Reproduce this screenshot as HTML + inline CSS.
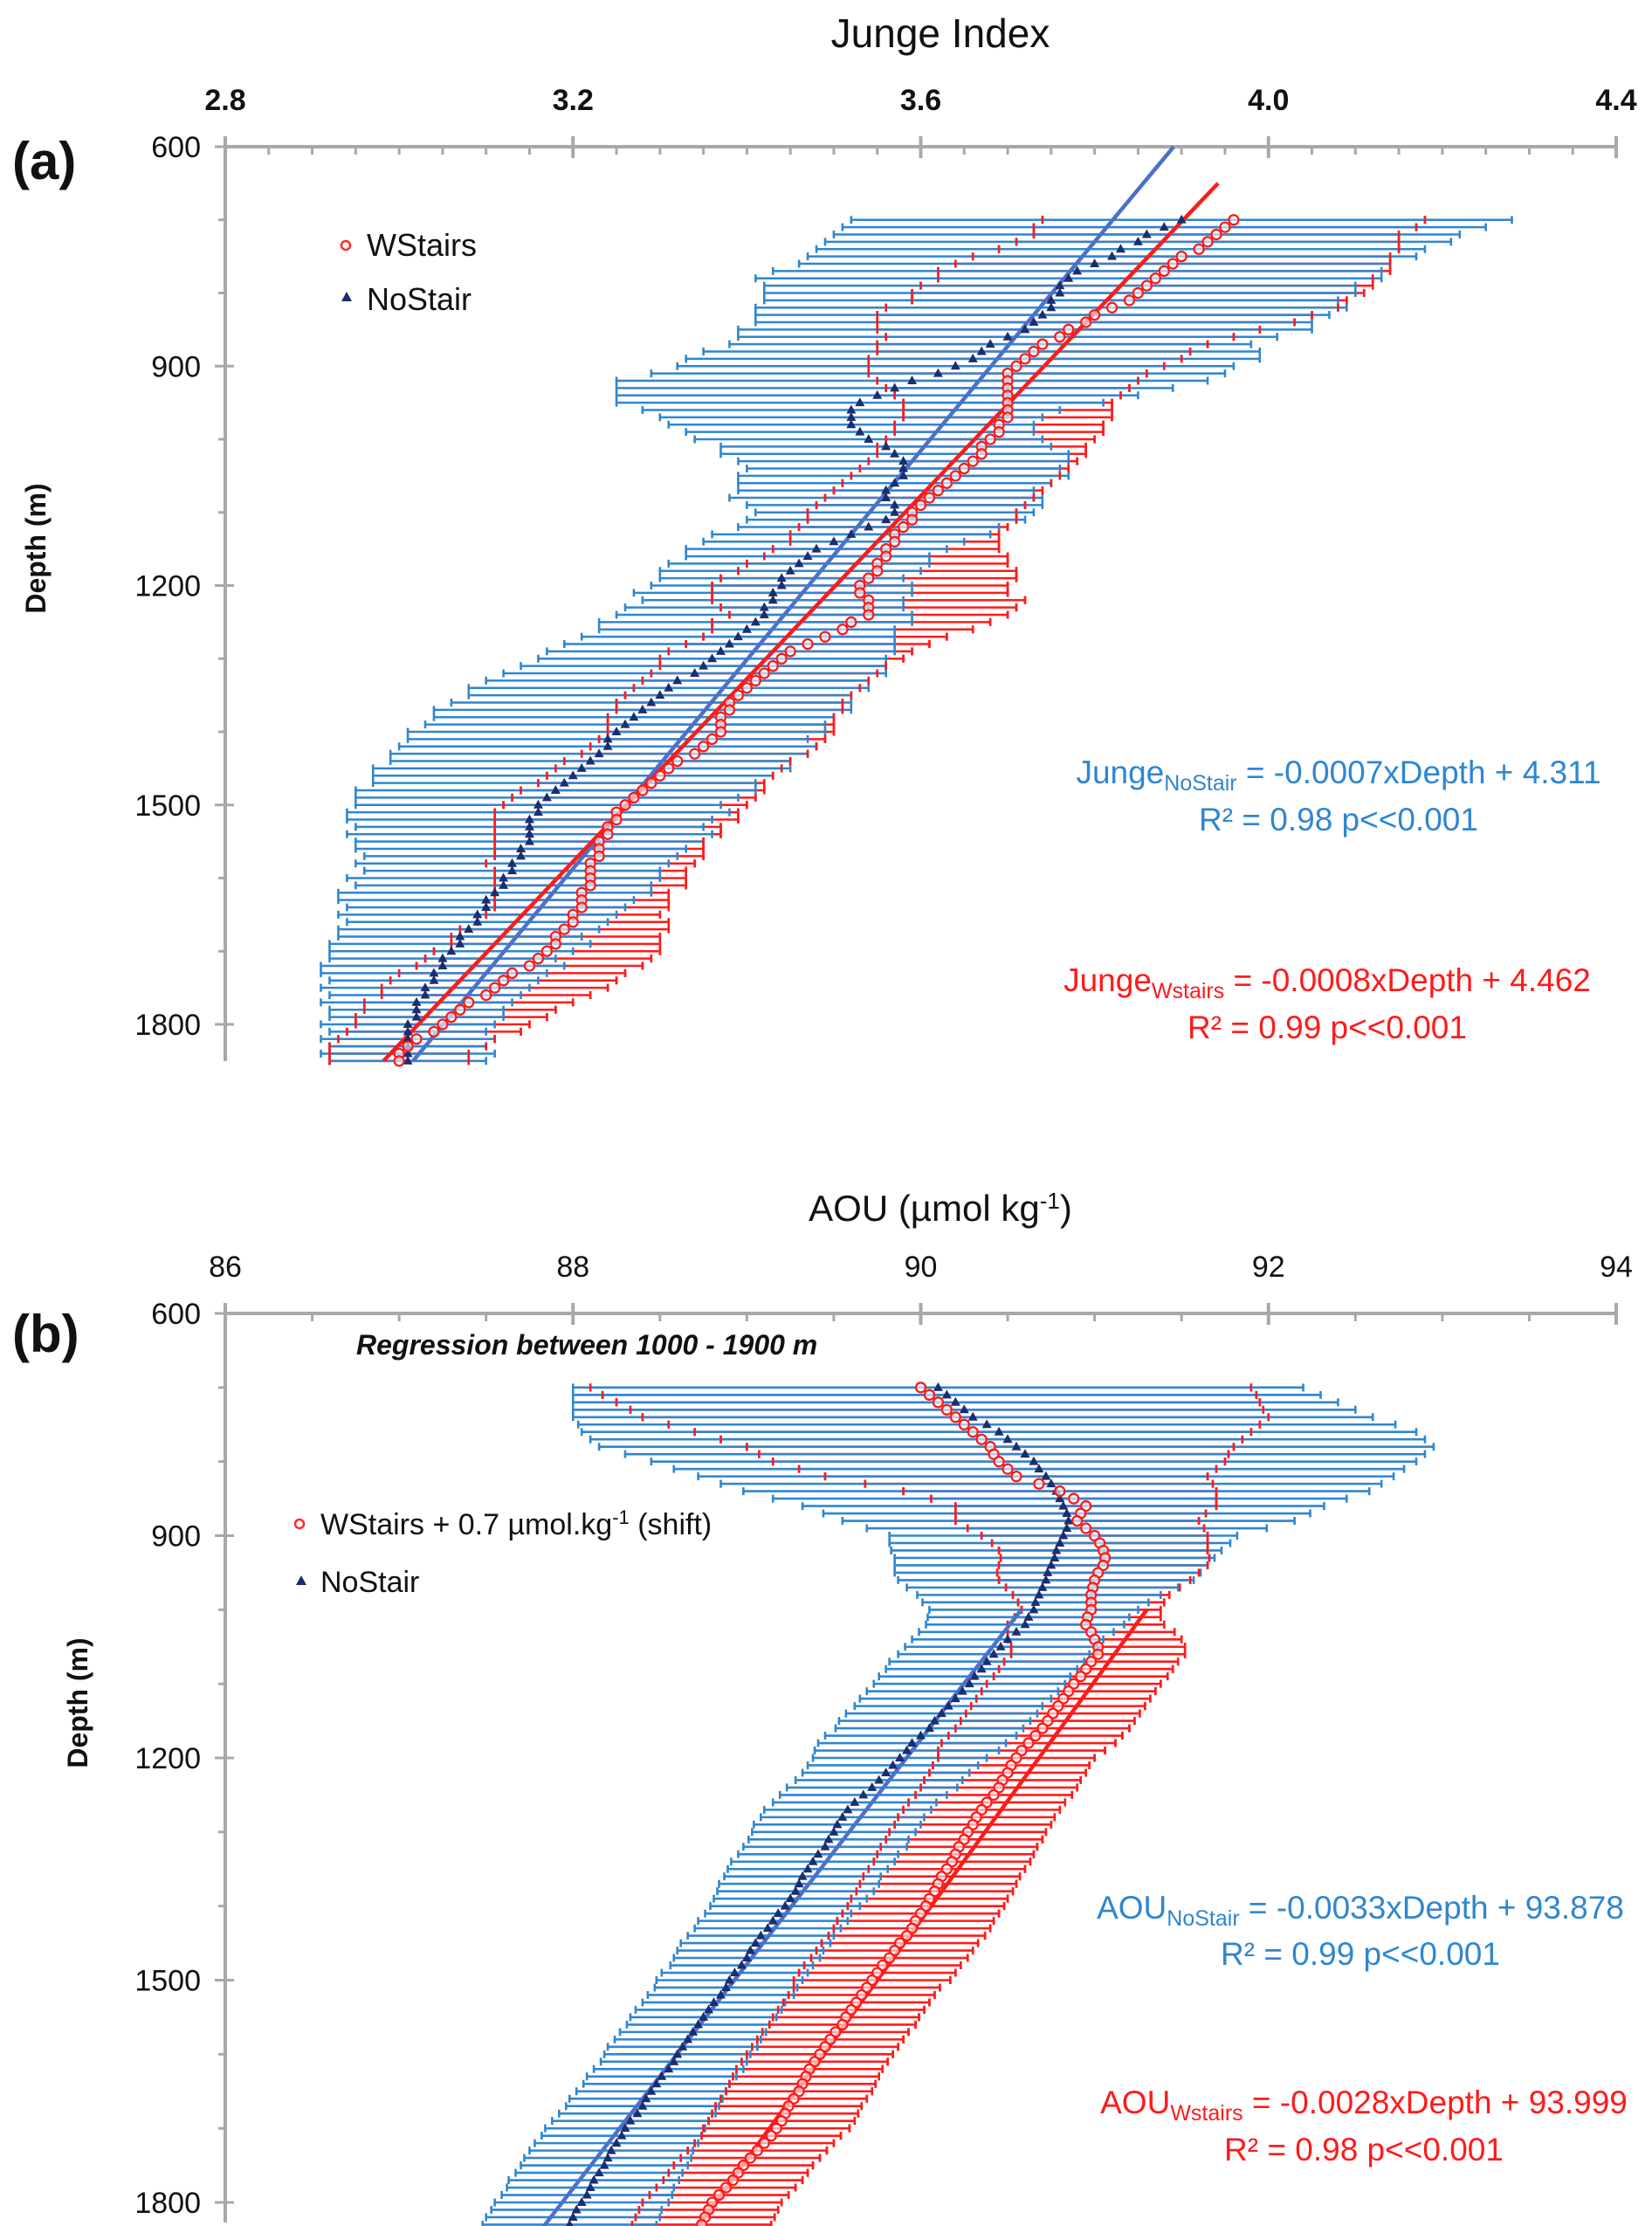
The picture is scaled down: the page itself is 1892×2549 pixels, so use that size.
<!DOCTYPE html>
<html><head><meta charset="utf-8"><style>
html,body{margin:0;padding:0;background:#fff;}
svg{display:block;font-family:"Liberation Sans","DejaVu Sans",sans-serif;}
</style></head><body>
<svg id="fig" width="1892" height="2549" viewBox="0 0 1892 2549" xmlns="http://www.w3.org/2000/svg">
<g id="panelA"></g>
<g id="panelB"></g>
<g>
<text x="1077" y="54" font-size="46" text-anchor="middle" fill="#111">Junge Index</text>
<text x="14" y="205" font-size="60" font-weight="bold" fill="#111">(a)</text>
<text transform="translate(52,628) rotate(-90)" font-size="32" font-weight="bold" text-anchor="middle" fill="#111">Depth (m)</text>
<circle cx="396" cy="281" r="5" fill="none" stroke="#ff2a2a" stroke-width="2.5"/>
<text x="420" y="293" font-size="36" fill="#111">WStairs</text>
<polygon points="397,334 391,345 403,345" fill="#1c2d6e"/>
<text x="420" y="355" font-size="36" fill="#111">NoStair</text>
<text x="1533" y="897" font-size="37" text-anchor="middle" fill="#2f86d0">Junge<tspan font-size="25" dy="8">NoStair</tspan><tspan dy="-8"> = -0.0007xDepth + 4.311</tspan></text>
<text x="1533" y="951" font-size="37" text-anchor="middle" fill="#2f86d0">R² = 0.98  p&lt;&lt;0.001</text>
<text x="1520" y="1135" font-size="37" text-anchor="middle" fill="#ff1a1a">Junge<tspan font-size="25" dy="8">Wstairs</tspan><tspan dy="-8"> = -0.0008xDepth + 4.462</tspan></text>
<text x="1520" y="1189" font-size="37" text-anchor="middle" fill="#ff1a1a">R² = 0.99  p&lt;&lt;0.001</text>

<text x="1077" y="1398" font-size="42" text-anchor="middle" fill="#111">AOU (µmol kg<tspan font-size="26" dy="-14">-1</tspan><tspan dy="14">)</tspan></text>
<text x="14" y="1548" font-size="60" font-weight="bold" fill="#111">(b)</text>
<text transform="translate(100,1950) rotate(-90)" font-size="32" font-weight="bold" text-anchor="middle" fill="#111">Depth (m)</text>
<text x="408" y="1551" font-size="32" font-weight="bold" font-style="italic" fill="#111">Regression between 1000 - 1900 m</text>
<circle cx="343" cy="1745" r="5" fill="none" stroke="#ff2a2a" stroke-width="2.5"/>
<text x="367" y="1757" font-size="34" fill="#111">WStairs  + 0.7 µmol.kg<tspan font-size="22" dy="-12">-1</tspan><tspan dy="12"> (shift)</tspan></text>
<polygon points="345,1804 339,1815 351,1815" fill="#1c2d6e"/>
<text x="367" y="1823" font-size="34" fill="#111">NoStair</text>
<text x="1558" y="2197" font-size="37" text-anchor="middle" fill="#2f86d0">AOU<tspan font-size="25" dy="8">NoStair</tspan><tspan dy="-8"> = -0.0033xDepth + 93.878</tspan></text>
<text x="1558" y="2250" font-size="37" text-anchor="middle" fill="#2f86d0">R² = 0.99   p&lt;&lt;0.001</text>
<text x="1562" y="2420" font-size="37" text-anchor="middle" fill="#ff1a1a">AOU<tspan font-size="25" dy="8">Wstairs</tspan><tspan dy="-8"> = -0.0028xDepth + 93.999</tspan></text>
<text x="1562" y="2474" font-size="37" text-anchor="middle" fill="#ff1a1a">R² = 0.98   p&lt;&lt;0.001</text>
</g>
</svg>
<script>
const depths = [700,710,720,730,740,750,760,770,780,790,800,810,820,830,840,850,860,870,880,890,900,910,920,930,940,950,960,970,980,990,1000,1010,1020,1030,1040,1050,1060,1070,1080,1090,1100,1110,1120,1130,1140,1150,1160,1170,1180,1190,1200,1210,1220,1230,1240,1250,1260,1270,1280,1290,1300,1310,1320,1330,1340,1350,1360,1370,1380,1390,1400,1410,1420,1430,1440,1450,1460,1470,1480,1490,1500,1510,1520,1530,1540,1550,1560,1570,1580,1590,1600,1610,1620,1630,1640,1650,1660,1670,1680,1690,1700,1710,1720,1730,1740,1750,1760,1770,1780,1790,1800,1810,1820,1830,1840,1850];

const nostairA = [3.90,3.88,3.86,3.85,3.83,3.82,3.80,3.78,3.77,3.76,3.76,3.75,3.75,3.74,3.73,3.72,3.70,3.68,3.67,3.66,3.64,3.62,3.59,3.57,3.55,3.53,3.52,3.52,3.52,3.53,3.54,3.56,3.57,3.58,3.58,3.58,3.57,3.56,3.56,3.57,3.57,3.56,3.54,3.52,3.50,3.48,3.47,3.46,3.45,3.44,3.44,3.43,3.43,3.42,3.42,3.41,3.40,3.39,3.38,3.37,3.36,3.35,3.34,3.32,3.31,3.30,3.29,3.28,3.27,3.26,3.25,3.24,3.24,3.23,3.22,3.21,3.20,3.19,3.18,3.17,3.16,3.16,3.15,3.15,3.15,3.15,3.14,3.14,3.13,3.13,3.12,3.12,3.11,3.10,3.10,3.09,3.09,3.08,3.07,3.07,3.06,3.05,3.05,3.04,3.04,3.03,3.03,3.02,3.02,3.02,3.01,3.01,3.01,3.01,3.01,3.01];
const nostairErrA = [.38,.37,.36,.36,.35,.35,.34,.35,.36,.34,.34,.33,.34,.33,.32,.33,.31,.30,.32,.33,.32,.33,.34,.32,.30,.28,.24,.22,.21,.20,.20,.19,.20,.19,.18,.19,.18,.17,.18,.17,.16,.16,.15,.16,.15,.15,.14,.15,.15,.14,.15,.16,.15,.16,.17,.18,.17,.18,.19,.20,.20,.21,.22,.22,.23,.22,.23,.24,.23,.23,.24,.23,.24,.24,.23,.24,.23,.22,.23,.22,.21,.22,.21,.20,.21,.20,.19,.18,.18,.17,.18,.17,.18,.17,.16,.16,.15,.15,.14,.15,.14,.13,.14,.13,.12,.12,.11,.11,.10,.10,.10,.09,.10,.09,.10,.09];
const wstairsA = [3.96,3.95,3.94,3.93,3.92,3.90,3.89,3.88,3.87,3.86,3.85,3.84,3.82,3.80,3.79,3.77,3.76,3.74,3.73,3.72,3.71,3.70,3.70,3.70,3.70,3.70,3.70,3.70,3.69,3.69,3.68,3.67,3.67,3.66,3.65,3.64,3.63,3.62,3.61,3.60,3.59,3.59,3.58,3.57,3.57,3.56,3.56,3.55,3.55,3.54,3.53,3.53,3.54,3.54,3.54,3.52,3.51,3.49,3.47,3.45,3.44,3.43,3.42,3.41,3.40,3.39,3.38,3.38,3.37,3.37,3.37,3.36,3.35,3.34,3.32,3.31,3.30,3.29,3.28,3.27,3.26,3.25,3.25,3.24,3.24,3.23,3.23,3.23,3.22,3.22,3.22,3.22,3.21,3.21,3.21,3.20,3.20,3.19,3.18,3.18,3.17,3.16,3.15,3.13,3.12,3.11,3.10,3.08,3.07,3.06,3.05,3.04,3.02,3.01,3.00,3.00];
const wstairsErrA = [.22,.22,.21,.22,.23,.24,.25,.26,.25,.26,.26,.25,.26,.25,.24,.22,.20,.19,.18,.18,.17,.16,.15,.14,.13,.12,.12,.12,.12,.12,.12,.12,.12,.12,.12,.12,.12,.12,.12,.12,.12,.12,.12,.12,.12,.13,.14,.15,.16,.17,.17,.17,.18,.17,.16,.16,.15,.14,.14,.14,.14,.13,.13,.13,.13,.13,.13,.13,.13,.13,.13,.13,.13,.13,.13,.13,.13,.13,.14,.14,.14,.14,.14,.13,.13,.12,.12,.12,.12,.11,.11,.11,.10,.10,.10,.10,.11,.12,.12,.12,.13,.13,.13,.13,.13,.13,.12,.12,.11,.11,.10,.10,.09,.09,.08,.08];
const fitA = {nostair:[-0.0007,4.311,600,1850], wstairs:[-0.0008,4.462,650,1850]};
const xTicksA = ["2.8","3.2","3.6","4.0","4.4"];

const nostairB = [90.1,90.15,90.2,90.25,90.3,90.38,90.45,90.5,90.55,90.6,90.65,90.68,90.72,90.75,90.78,90.8,90.82,90.84,90.85,90.84,90.82,90.8,90.78,90.77,90.75,90.73,90.72,90.7,90.68,90.66,90.65,90.62,90.6,90.55,90.5,90.46,90.42,90.38,90.35,90.31,90.28,90.24,90.2,90.16,90.12,90.08,90.05,90.0,89.95,89.92,89.88,89.84,89.8,89.76,89.72,89.67,89.62,89.58,89.55,89.52,89.5,89.47,89.45,89.41,89.38,89.35,89.32,89.3,89.28,89.25,89.22,89.18,89.15,89.12,89.08,89.05,89.02,89.0,88.97,88.93,88.9,88.88,88.85,88.81,88.78,88.75,88.72,88.69,88.66,88.63,88.6,88.58,88.55,88.51,88.48,88.45,88.42,88.4,88.37,88.33,88.3,88.28,88.25,88.22,88.2,88.18,88.15,88.12,88.1,88.08,88.05,88.02,88.0,87.98,87.97,87.96];
const nostairErrB = [2.1,2.15,2.2,2.25,2.3,2.35,2.4,2.4,2.4,2.3,2.2,2.1,2.0,1.9,1.8,1.65,1.5,1.4,1.3,1.15,1.0,0.98,0.95,0.92,0.9,0.88,0.85,0.78,0.7,0.65,0.6,0.58,0.57,0.56,0.55,0.55,0.55,0.56,0.55,0.55,0.55,0.55,0.55,0.54,0.55,0.55,0.54,0.55,0.54,0.53,0.5,0.49,0.48,0.48,0.49,0.48,0.47,0.48,0.47,0.48,0.47,0.46,0.47,0.46,0.47,0.46,0.45,0.46,0.45,0.44,0.43,0.42,0.43,0.42,0.42,0.43,0.42,0.42,0.41,0.42,0.42,0.41,0.42,0.41,0.42,0.42,0.41,0.42,0.42,0.43,0.42,0.42,0.43,0.43,0.42,0.43,0.44,0.44,0.45,0.45,0.46,0.46,0.47,0.47,0.48,0.48,0.48,0.49,0.48,0.49,0.5,0.49,0.5,0.5,0.49,0.5];
const wstairsB = [90.0,90.05,90.1,90.15,90.2,90.25,90.3,90.35,90.4,90.42,90.45,90.5,90.55,90.68,90.8,90.88,90.95,90.92,90.9,90.95,91.0,91.03,91.05,91.06,91.05,91.02,91.0,90.99,90.98,90.98,90.98,90.96,90.95,90.98,91.0,91.02,91.02,90.98,90.95,90.92,90.88,90.85,90.82,90.79,90.76,90.73,90.7,90.66,90.62,90.58,90.55,90.52,90.5,90.47,90.45,90.42,90.38,90.35,90.32,90.3,90.27,90.25,90.22,90.2,90.18,90.15,90.12,90.1,90.08,90.05,90.03,90.0,89.97,89.95,89.92,89.88,89.85,89.82,89.78,89.75,89.72,89.69,89.66,89.63,89.6,89.57,89.55,89.51,89.48,89.45,89.42,89.39,89.36,89.34,89.32,89.3,89.27,89.24,89.22,89.2,89.17,89.14,89.1,89.06,89.02,88.98,88.95,88.92,88.88,88.84,88.8,88.78,88.76,88.74,88.72,88.7];
const wstairsErrB = [1.9,1.88,1.85,1.82,1.8,1.7,1.6,1.5,1.4,1.35,1.3,1.2,1.1,1.0,0.9,0.82,0.75,0.72,0.7,0.68,0.65,0.62,0.6,0.6,0.6,0.58,0.55,0.5,0.45,0.42,0.4,0.42,0.45,0.48,0.5,0.5,0.5,0.5,0.5,0.5,0.5,0.5,0.5,0.5,0.5,0.5,0.5,0.5,0.5,0.48,0.45,0.45,0.45,0.45,0.45,0.45,0.45,0.45,0.45,0.45,0.45,0.45,0.45,0.45,0.45,0.45,0.45,0.45,0.45,0.45,0.45,0.45,0.45,0.45,0.45,0.45,0.45,0.45,0.45,0.45,0.45,0.42,0.42,0.42,0.42,0.42,0.42,0.42,0.42,0.42,0.42,0.42,0.42,0.42,0.42,0.42,0.42,0.42,0.42,0.42,0.42,0.4,0.4,0.4,0.4,0.4,0.4,0.4,0.4,0.4,0.4,0.4,0.4,0.4,0.4,0.4];
const fitB = {nostair:[-0.0033,93.878,1000,1850], wstairs:[-0.0031,94.4,1000,1850]};
const xTicksB = ["86","88","90","92","94"];
const yTicks = [600,900,1200,1500,1800];

const NS = "http://www.w3.org/2000/svg";
function mk(parent, tag, attrs){
  const e = document.createElementNS(NS, tag);
  for (const k in attrs) e.setAttribute(k, attrs[k]);
  parent.appendChild(e);
  return e;
}
const BLUE = "#2f86d0", RED = "#ff1a1a", NAVY = "#1c2d6e", GREY = "#a8a8a8";

function panel(g, o){
  const xs = v => o.x0 + (v - o.xmin) / (o.xmax - o.xmin) * (o.x1 - o.x0);
  const ys = d => o.y0 + (d - 600) / 1200 * (o.y1 - o.y0);
  const ax = mk(g, "line", {x1:o.x0, y1:o.y0, x2:o.x1, y2:o.y0, stroke:GREY, "stroke-width":4});
  
  
  const ay = mk(g, "line", {x1:o.x0, y1:o.y0, x2:o.x0, y2:o.ybot, stroke:GREY, "stroke-width":4});
  
  
  const nMinor = o.minor;
  for (let i = 0; i <= 4*nMinor; i++){
    const x = o.x0 + i*(o.x1-o.x0)/(4*nMinor);
    const major = i % nMinor === 0;
    const t = mk(g, "line", {x1:x, y1:major? o.y0-12 : o.y0, x2:x, y2:o.y0+ (major?13:9), stroke:GREY, "stroke-width":major?4:3});
    
    
  }
  o.ticks.forEach((lab, i) => {
    const v = o.xmin + i*(o.xmax-o.xmin)/4;
    const t = mk(g, "text", {x:xs(v), y:o.labY, "font-size":34, "font-weight":o.boldTicks?"bold":"normal", "text-anchor":"middle", fill:"#111"});
    t.textContent = lab;
    
    
  });
  for (let d = 600; d <= 1800; d += 100){
    const y = ys(d);
    const major = (d % 300 === 0);
    const t = mk(g, "line", {x1:o.x0 - (major?12:8), y1:y, x2:o.x0 + (major?10:0), y2:y, stroke:GREY, "stroke-width":3});
    
    
  }
  yTicks.forEach(d => {
    const t = mk(g, "text", {x:o.x0-28, y:ys(d)+12, "font-size":34, "text-anchor":"end", fill:"#111"});
    t.textContent = d;
    
    
  });
  function bars(vals, errs, color, name, capsOnly){
    const gg = mk(g, "g", {stroke:color, "stroke-width":2.6, fill:"none"});
    
    
    o.depths.forEach((d, i) => {
      const y = ys(d), xl = xs(vals[i]-errs[i]), xr = xs(vals[i]+errs[i]);
      let p = "M"+xl+","+(y-4.5)+"V"+(y+4.5)+"M"+xr+","+(y-4.5)+"V"+(y+4.5);
      if (!capsOnly) p = "M"+xl+","+y+"H"+xr + p;
      mk(gg, "path", {d:p});
    });
  }
  bars(o.ws, o.wsErr, RED, "error-bars-wstairs", false);
  bars(o.ns, o.nsErr, BLUE, "error-bars-nostair", false);
  bars(o.ws, o.wsErr, RED, "error-caps-wstairs", true);
  [["nostair", "#4a72c8"], ["wstairs", RED]].forEach(([k, c]) => {
    const f = o.fit[k];
    const l = mk(g, "line", {x1:xs(f[0]*f[2]+f[1]), y1:ys(f[2]), x2:xs(f[0]*f[3]+f[1]), y2:ys(f[3]), stroke:c, "stroke-width":4.5});
    
    
  });
  const gt = mk(g, "g", {fill:NAVY});
  
  
  o.depths.forEach((d, i) => {
    const x = xs(o.ns[i]), y = ys(d);
    mk(gt, "polygon", {points:(x)+","+(y-6)+" "+(x-5.5)+","+(y+4)+" "+(x+5.5)+","+(y+4)});
  });
  const gc = mk(g, "g", {fill:"#fff", "fill-opacity":0.6, stroke:RED, "stroke-width":2.3});
  
  
  o.depths.forEach((d, i) => {
    mk(gc, "circle", {cx:xs(o.ws[i]), cy:ys(d), r:5.5});
  });
}

panel(document.getElementById("panelA"), {x0:258, x1:1851, y0:168, y1:1173, ybot:1215, xmin:2.8, xmax:4.4, minor:8, ticks:xTicksA, labY:126, boldTicks:true,
  depths:depths, ns:nostairA, nsErr:nostairErrA, ws:wstairsA, wsErr:wstairsErrA, fit:fitA});
panel(document.getElementById("panelB"), {x0:258, x1:1851, y0:1504, y1:2522, ybot:2545, xmin:86, xmax:94, minor:4, ticks:xTicksB, labY:1462, boldTicks:false,
  depths:depths, ns:nostairB, nsErr:nostairErrB, ws:wstairsB, wsErr:wstairsErrB, fit:fitB});
</script>
</body></html>
